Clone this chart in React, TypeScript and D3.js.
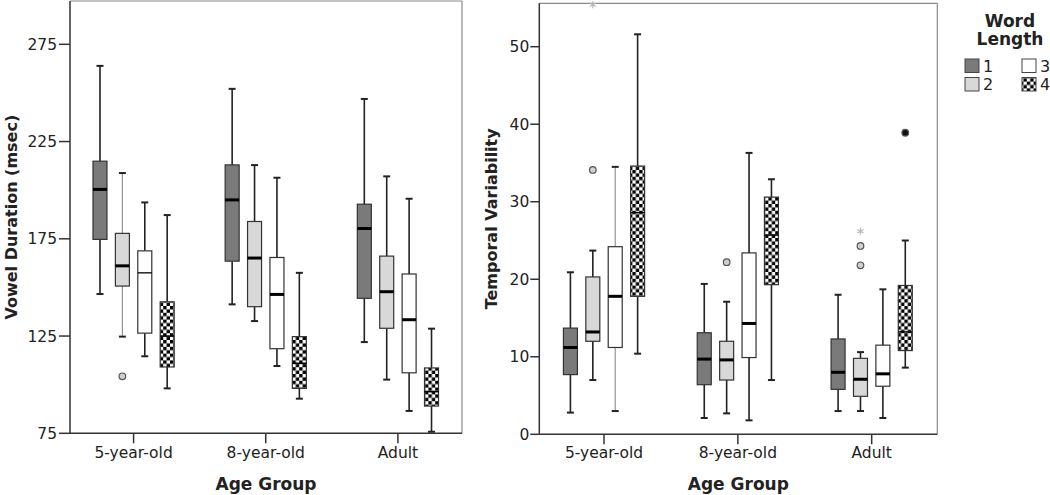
import React from "react";
import * as d3 from "d3";

// ---------- data ----------
const ageGroups = ["5-year-old", "8-year-old", "Adult"];
const wordLengths = ["1", "2", "3", "4"];

// [lower whisker, Q1, median, Q3, upper whisker] for each word length, per age group
const durationBoxes5 = [[146.6, 174.7, 200.4, 214.9, 263.9], [124.7, 150.7, 161.1, 177.8, 208.8], [114.6, 126.5, 157.5, 168.8, 193.7], [98.1, 109.1, 125, 142.6, 187.2]];
const durationBoxes8 = [[141.3, 163.5, 195, 213, 252.1], [132.7, 140.1, 165.1, 183.9, 212.9], [109.6, 118.5, 146.4, 165.4, 206.4], [92.8, 98.1, 111, 124.7, 157.5]];
const durationBoxesAdult = [[121.9, 144.4, 180.3, 192.8, 246.9], [102.6, 129, 147.8, 166.1, 207.1], [86.5, 106.1, 133.4, 156.9, 195.6], [75.8, 89, 96.4, 108.6, 128.8]];

const variabilityBoxes5 = [[2.8, 7.7, 11.2, 13.7, 20.9], [7.0, 12.0, 13.2, 20.3, 23.7], [3.0, 11.2, 17.8, 24.2, 34.5], [10.4, 17.8, 28.6, 34.6, 51.6]];
const variabilityBoxes8 = [[2.1, 6.4, 9.7, 13.1, 19.4], [2.7, 7.0, 9.6, 12.0, 17.1], [1.8, 9.9, 14.3, 23.4, 36.3], [7.0, 19.3, 25.7, 30.6, 32.9]];
const variabilityBoxesAdult = [[3.0, 5.8, 8.0, 12.3, 18.0], [3.0, 4.9, 7.1, 9.8, 10.6], [2.1, 6.2, 7.8, 11.5, 18.7], [8.6, 10.8, 13.2, 19.2, 25.0]];

// [age group index, word length index, value, kind]
const durationOutliers: [number, number, number, string][] = [[0, 1, 104.3, "circle"]];
const variabilityOutliers: [number, number, number, string][] = [
  [0, 1, 55.4, "star"],
  [0, 1, 34.1, "circle"],
  [1, 1, 22.2, "circle"],
  [2, 1, 26.2, "star"],
  [2, 1, 24.3, "circle"],
  [2, 1, 21.8, "circle"],
  [2, 3, 38.9, "dark"],
];

const durationTicks = [75, 125, 175, 225, 275];
const variabilityTicks = [0, 10, 20, 30, 40, 50];

// ---------- styling ----------
const FONT = "'DejaVu Sans', Verdana, sans-serif";
const fills = ["#7a7a7a", "#d8d8d8", "#ffffff", "url(#checker)"];
const INK = "#222";

type Panel = {
  key: string;
  left: number;
  right: number;
  top: number;
  bottom: number;
  xRange: [number, number];
  yDomain: [number, number];
  yRange: [number, number];
  ticks: number[];
  boxes: number[][][];
  outliers: [number, number, number, string][];
  yLabel: string;
  yLabelX: number;
  tickLen: number;
  labelGap: number;
  lightWhiskers: string[];
  thinMedians: string[];
};

const panels: Panel[] = [
  {
    key: "dur",
    left: 70,
    right: 462,
    top: 1,
    bottom: 433.3,
    xRange: [67.5, 464],
    yDomain: [75, 275],
    yRange: [433.3, 44.3],
    ticks: durationTicks,
    boxes: [durationBoxes5, durationBoxes8, durationBoxesAdult],
    outliers: durationOutliers,
    yLabel: "Vowel Duration (msec)",
    yLabelX: 17,
    tickLen: 11,
    labelGap: 13,
    lightWhiskers: ["0-1"],
    thinMedians: ["0-2"],
  },
  {
    key: "var",
    left: 539.3,
    right: 937.3,
    top: 3.3,
    bottom: 434.3,
    xRange: [537.1, 938.6],
    yDomain: [0, 50],
    yRange: [434.3, 46.7],
    ticks: variabilityTicks,
    boxes: [variabilityBoxes5, variabilityBoxes8, variabilityBoxesAdult],
    outliers: variabilityOutliers,
    yLabel: "Temporal Variability",
    yLabelX: 497,
    tickLen: 9,
    labelGap: 10,
    lightWhiskers: ["0-2"],
    thinMedians: [],
  },
];

const BOX_W = 14;
const CAP = 3.5;

function star(cx: number, cy: number, r: number) {
  const parts: string[] = [];
  for (let i = 0; i < 3; i++) {
    const a = (Math.PI / 3) * i + Math.PI / 2;
    const dx = Math.cos(a) * r;
    const dy = Math.sin(a) * r;
    parts.push(`M${cx - dx},${cy - dy}L${cx + dx},${cy + dy}`);
  }
  return parts.join("");
}

function PanelView({ p }: { p: Panel }) {
  const x = d3.scalePoint<string>().domain(ageGroups).range(p.xRange).padding(0.5);
  const inner = d3.scalePoint<string>().domain(wordLengths).range([-33.6, 33.6]);
  const y = d3.scaleLinear().domain(p.yDomain).range(p.yRange);

  return (
    <g>
      {/* frame */}
      <line x1={p.left} x2={p.right} y1={p.top} y2={p.top} stroke="#8a8a8a" strokeWidth={1.2} />
      <line x1={p.right} x2={p.right} y1={p.top} y2={p.bottom} stroke="#8a8a8a" strokeWidth={1.2} />
      <line x1={p.left} x2={p.left} y1={p.top} y2={p.bottom} stroke="#333" strokeWidth={1.5} />
      <line x1={p.left} x2={p.right} y1={p.bottom} y2={p.bottom} stroke="#333" strokeWidth={1.5} />

      {/* y ticks */}
      {p.ticks.map((t) => (
        <g key={t}>
          <line x1={p.left - p.tickLen} x2={p.left} y1={y(t)} y2={y(t)} stroke="#333" strokeWidth={1.5} />
          <text x={p.left - p.labelGap} y={y(t)} dy="0.36em" textAnchor="end" fontSize={15.5} fill={INK} fontFamily={FONT}>
            {t}
          </text>
        </g>
      ))}

      {/* x ticks */}
      {ageGroups.map((g) => (
        <g key={g}>
          <line x1={x(g)} x2={x(g)} y1={p.bottom} y2={p.bottom + 10} stroke="#333" strokeWidth={1.5} />
          <text x={x(g)} y={458} textAnchor="middle" fontSize={15.5} fill={INK} fontFamily={FONT}>
            {g}
          </text>
        </g>
      ))}

      {/* axis titles */}
      <text x={(p.left + p.right) / 2} y={490} textAnchor="middle" fontSize={17} fontWeight="bold" fill={INK} fontFamily={FONT}>
        Age Group
      </text>
      <text
        transform={`translate(${p.yLabelX},${(p.top + p.bottom) / 2}) rotate(-90)`}
        textAnchor="middle"
        fontSize={16}
        fontWeight="bold"
        fill={INK}
        fontFamily={FONT}
      >
        {p.yLabel}
      </text>

      {/* boxes */}
      {ageGroups.map((g, gi) =>
        wordLengths.map((w, wi) => {
          const [lo, q1, med, q3, hi] = p.boxes[gi][wi];
          const cx = (x(g) as number) + (inner(w) as number);
          const k = `${gi}-${wi}`;
          const light = p.lightWhiskers.includes(k);
          const wStroke = light ? "#8c8c8c" : "#222";
          const wWidth = light ? 1.1 : 1.6;
          return (
            <g key={k}>
              <line x1={cx} x2={cx} y1={y(hi)} y2={y(q3)} stroke={wStroke} strokeWidth={wWidth} />
              <line x1={cx} x2={cx} y1={y(q1)} y2={y(lo)} stroke={wStroke} strokeWidth={wWidth} />
              <line x1={cx - CAP} x2={cx + CAP} y1={y(hi)} y2={y(hi)} stroke="#222" strokeWidth={2} />
              <line x1={cx - CAP} x2={cx + CAP} y1={y(lo)} y2={y(lo)} stroke="#222" strokeWidth={2} />
              <rect
                x={cx - BOX_W / 2}
                y={y(q3)}
                width={BOX_W}
                height={y(q1) - y(q3)}
                fill={fills[wi]}
                stroke="#333"
                strokeWidth={1.2}
              />
              <line
                x1={cx - BOX_W / 2}
                x2={cx + BOX_W / 2}
                y1={y(med)}
                y2={y(med)}
                stroke="#000"
                strokeWidth={p.thinMedians.includes(k) ? 1.3 : wi === 3 ? 1.5 : 3}
              />
            </g>
          );
        })
      )}

      {/* outliers */}
      {p.outliers.map(([gi, wi, v, kind], i) => {
        const cx = (x(ageGroups[gi]) as number) + (inner(wordLengths[wi]) as number);
        const cy = y(v);
        if (kind === "star") {
          return <path key={i} d={star(cx, cy, 3.5)} stroke="#b8b8b8" strokeWidth={1.2} />;
        }
        if (kind === "dark") {
          return <circle key={i} cx={cx} cy={cy} r={3.3} fill="#111" stroke="#555" strokeWidth={1.2} />;
        }
        return <circle key={i} cx={cx} cy={cy} r={3.3} fill="#cfcfcf" stroke="#555" strokeWidth={1.2} />;
      })}
    </g>
  );
}

function Legend() {
  const cols = [965, 1022];
  const rows = [59, 77.5];
  return (
    <g fontFamily={FONT} fill={INK}>
      <text x={1010} y={27} textAnchor="middle" fontSize={17} fontWeight="bold">
        Word
      </text>
      <text x={1010} y={45} textAnchor="middle" fontSize={17} fontWeight="bold">
        Length
      </text>
      {wordLengths.map((w, i) => {
        const cx = cols[Math.floor(i / 2)];
        const cy = rows[i % 2];
        return (
          <g key={w}>
            <rect x={cx} y={cy} width={14} height={13.5} fill={fills[i]} stroke="#444" strokeWidth={1} />
            <text x={cx + 18} y={cy + 12.5} fontSize={16}>
              {w}
            </text>
          </g>
        );
      })}
    </g>
  );
}

export default function App() {
  return (
    <svg
      width={1050}
      height={495}
      viewBox="0 0 1050 495"
      style={{ position: "absolute", left: 0, top: 0, background: "#fff" }}
    >
      <defs>
        <pattern id="checker" patternUnits="userSpaceOnUse" width={6.8} height={6.8}>
          <rect width={6.8} height={6.8} fill="#fff" />
          <rect x={0} y={0} width={3.4} height={3.4} fill="#000" />
          <rect x={3.4} y={3.4} width={3.4} height={3.4} fill="#000" />
        </pattern>
      </defs>
      <rect width={1050} height={495} fill="#fff" />
      {panels.map((p) => (
        <PanelView key={p.key} p={p} />
      ))}
      <Legend />
    </svg>
  );
}
